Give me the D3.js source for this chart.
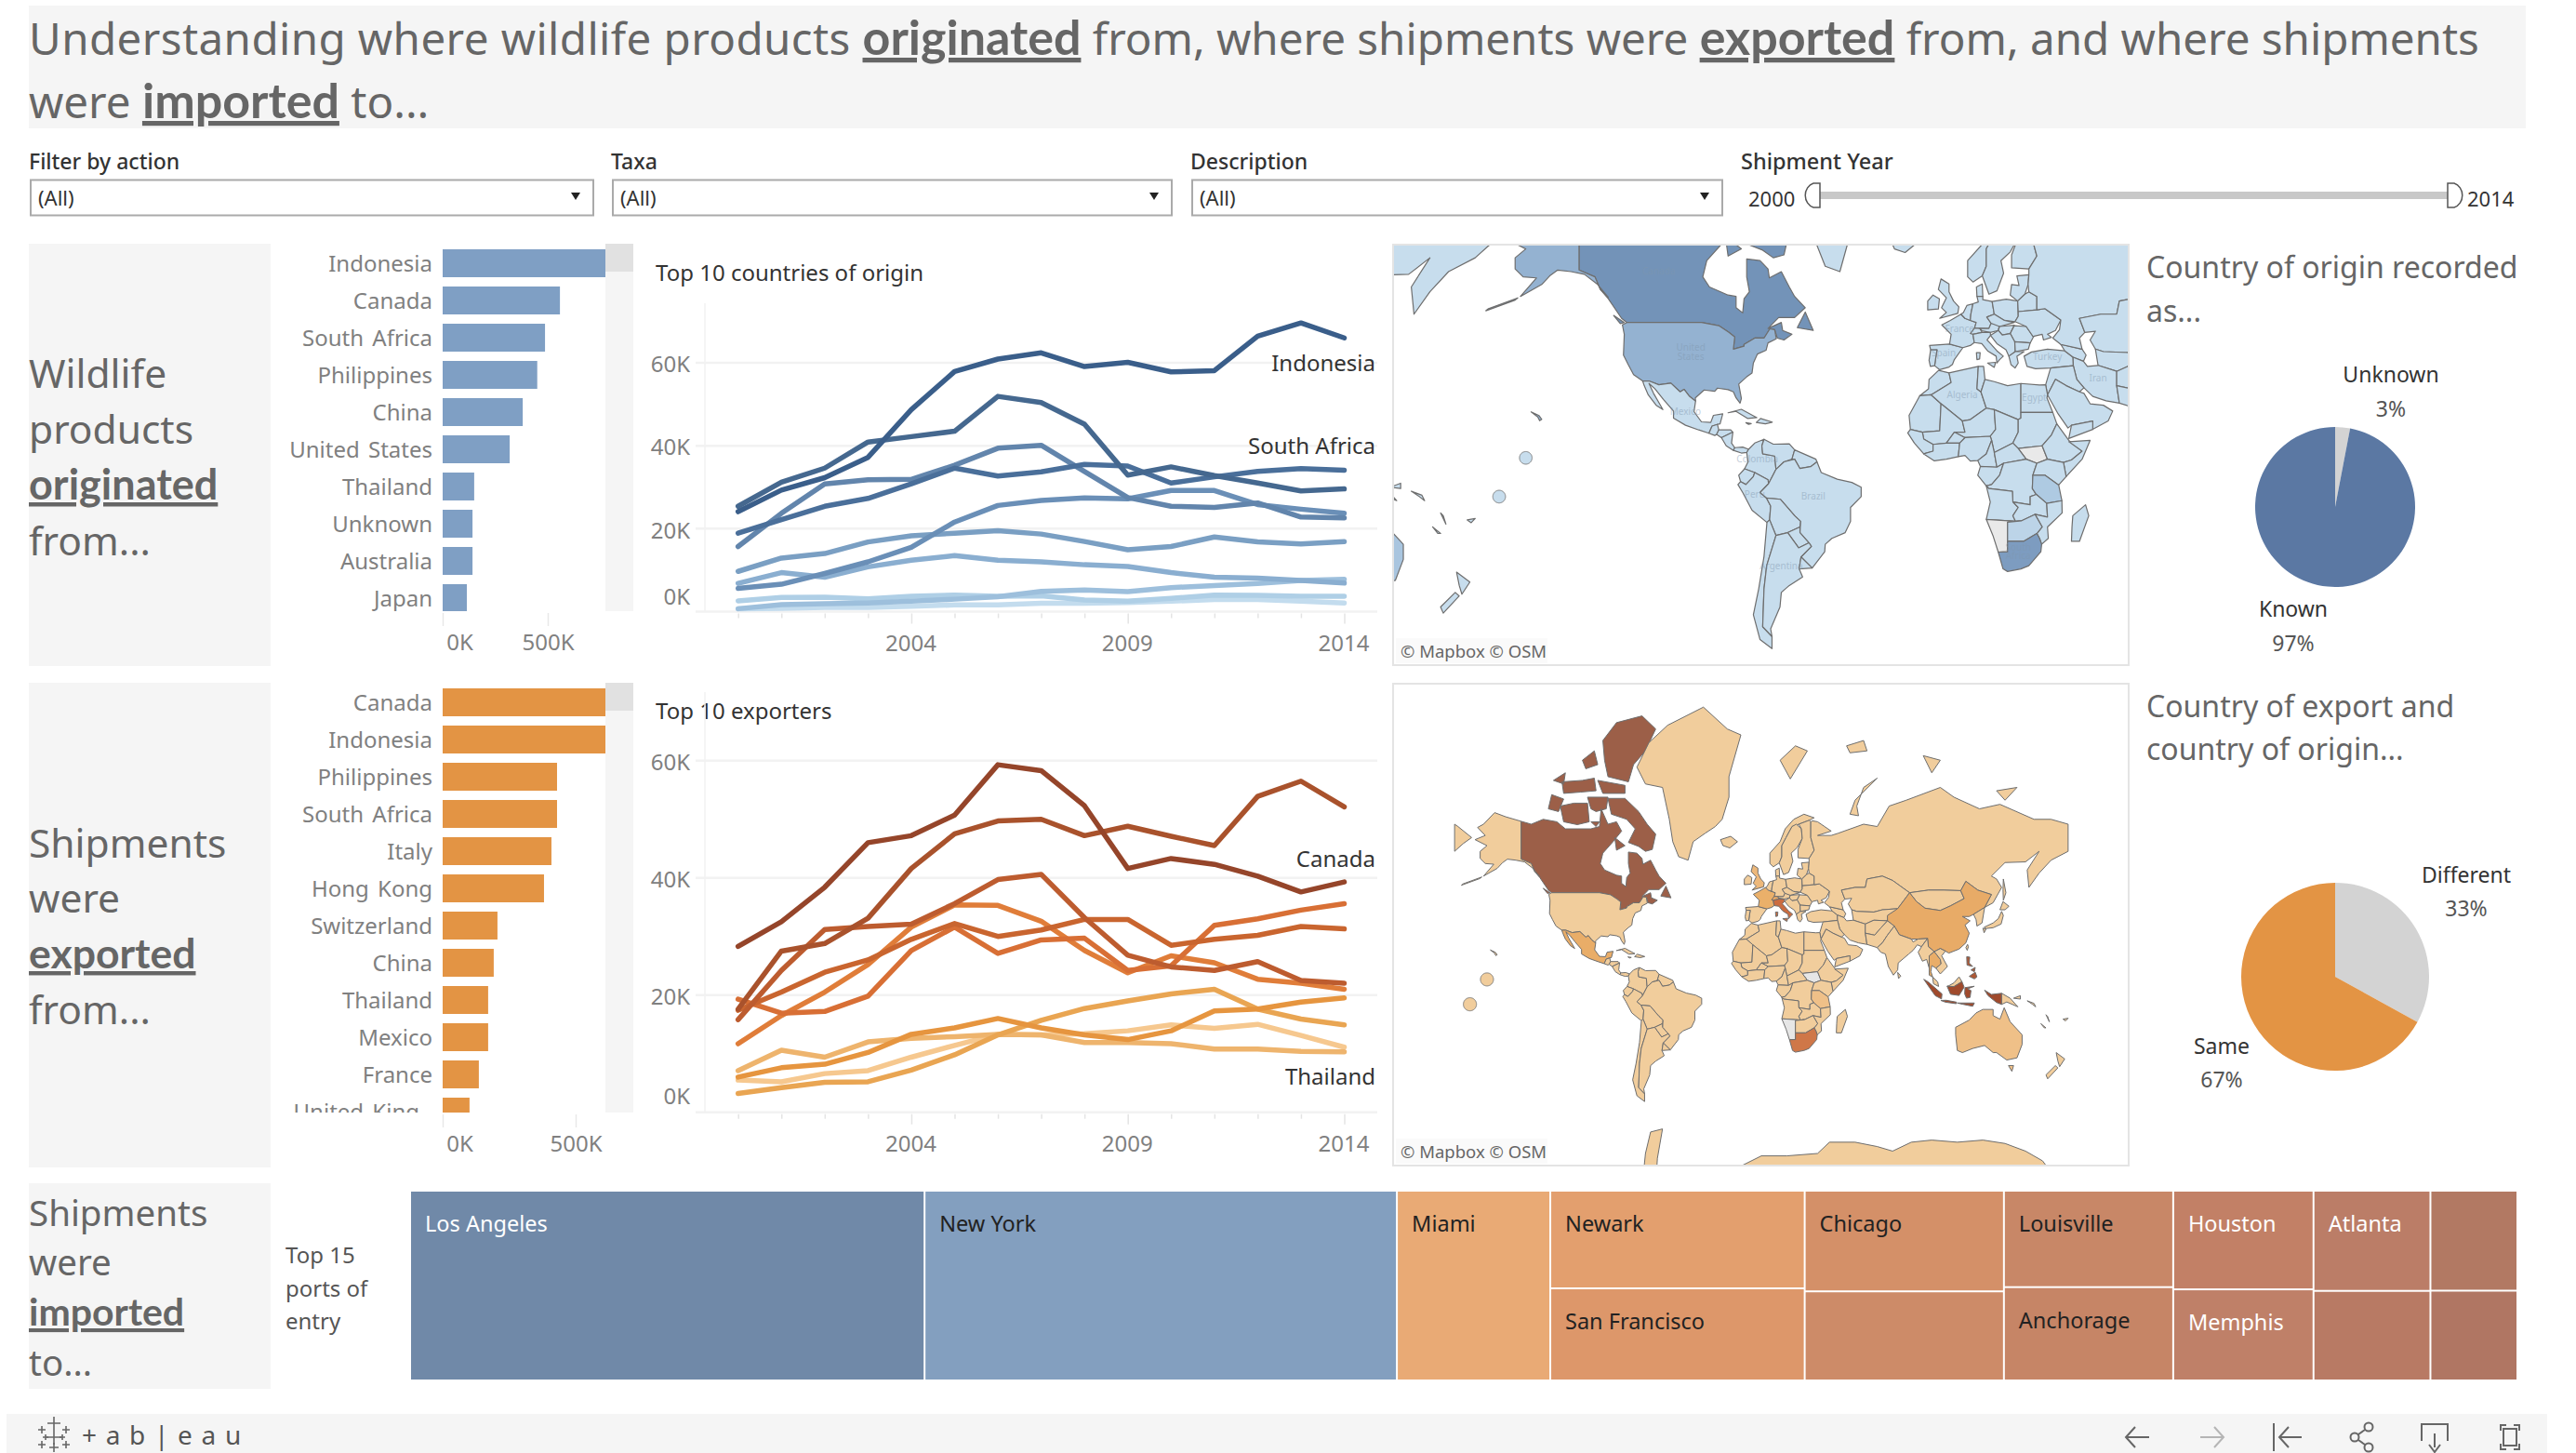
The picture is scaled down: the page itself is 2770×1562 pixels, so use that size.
<!DOCTYPE html>
<html><head><meta charset="utf-8">
<script src="https://d3js.org/d3.v7.min.js"></script>
<style>html,body{margin:0;padding:0;background:#fff}svg{display:block}</style></head>
<body><div id="c"></div>
<script>
// ---------- DATA ----------
const years=[2000,2001,2002,2003,2004,2005,2006,2007,2008,2009,2010,2011,2012,2013,2014];
const labelledYears=[2004,2009,2014];
const originBarNames=["Indonesia","Canada","South Africa","Philippines","China","United States","Thailand","Unknown","Australia","Japan"];
const originBarValues=[800,558,487,450,381,319,150,142,142,115];
const exportBarNames=["Canada","Indonesia","Philippines","South Africa","Italy","Hong Kong","Switzerland","China","Thailand","Mexico","France","United King"];
const exportBarValues=[740,720,430,430,409,381,206,192,171,171,136,101];
const originLines=[
[24.1,29.3,32.3,37.2,48.7,57.9,60.9,62.4,59.1,60.1,57.8,58.1,66.4,69.6,66.0],
[25.4,31.2,34.6,40.9,42.2,43.5,51.9,50.4,45.2,32.9,34.9,32.8,31.0,29.1,29.6],
[18.9,22.2,25.4,27.3,30.8,34.6,32.7,33.7,35.5,35.1,31.0,32.5,33.8,34.5,34.1],
[15.7,23.7,30.8,31.8,31.9,35.3,39.4,40.1,33.8,27.5,25.4,25.1,26.2,22.8,22.6],
[5.6,6.6,9.2,12.0,15.5,21.6,25.6,26.8,27.4,27.2,29.2,29.2,25.8,24.7,23.7],
[9.7,12.9,14.0,16.8,18.3,18.9,19.5,18.7,16.9,14.9,15.7,18.0,16.8,16.3,16.9],
[6.8,9.4,8.3,10.8,12.4,13.5,12.4,12.0,11.3,10.9,9.4,8.3,8.1,7.5,6.9],
[0.7,1.7,1.9,2.1,2.5,3.0,3.6,4.9,5.2,4.8,5.8,6.3,6.8,7.5,7.8],
[2.6,3.4,3.5,3.1,3.7,4.0,3.7,3.8,2.8,2.5,3.2,4.0,3.9,3.7,3.7],
[0.7,0.8,1.0,1.0,1.3,1.6,1.6,2.0,2.0,2.2,2.5,2.9,2.9,2.5,2.1]];
const originColors=["#3a5e8a","#45688f","#4a6f9a","#6285ac","#6a8fb7","#7a9fc3","#8aaed0","#9dbfdc","#afcfe6","#c3dcee"];
const exportLines=[
[28.3,32.5,38.4,46.0,47.2,50.7,59.3,58.3,52.3,41.6,43.3,42.3,40.3,37.6,39.3],
[17.6,27.5,28.8,33.1,41.6,47.5,49.7,50.0,47.2,48.8,47.1,45.5,53.9,56.5,52.1],
[15.8,24.2,31.2,31.7,32.1,35.6,39.7,40.6,33.2,26.8,24.8,24.2,25.7,22.5,22.0],
[17.4,20.5,23.9,26.0,29.5,32.2,30.0,31.1,32.9,32.9,28.5,29.5,30.2,31.7,31.3],
[19.3,16.9,17.2,19.8,27.6,31.6,27.1,29.4,29.7,24.2,25.0,31.9,33.0,34.5,35.6],
[11.7,16.5,20.5,25.2,31.6,35.4,35.3,32.6,27.6,23.8,26.7,25.5,22.7,22.0,21.0],
[6.0,7.6,8.2,10.2,13.3,14.4,16.0,14.4,13.2,12.4,13.9,17.3,17.6,18.8,19.5],
[3.2,4.2,5.1,5.2,7.2,9.8,13.2,15.7,17.7,19.0,20.2,21.0,17.6,15.9,14.9],
[7.1,10.6,9.4,12.0,12.6,12.9,13.3,13.2,11.9,11.9,11.7,10.8,10.8,10.4,10.3],
[5.5,5.2,6.6,7.1,9.4,11.4,13.3,13.2,13.4,13.9,14.9,14.3,15.0,13.1,11.1]];
const exportColors=["#95452a","#a9522c","#bd5c2f","#c9652f","#d86f35","#e07d39","#e6953f","#e9a552","#eeb46d","#f6c88f"];
const pieOrigin=[["Unknown",3],["Known",97]];
const pieExport=[["Different",33],["Same",67]];
const portColumns=[["Los Angeles"],["New York"],["Miami"],["Newark","San Francisco"],["Chicago",""],["Louisville","Anchorage"],["Houston","Memphis"],["Atlanta",""],["",""]];
const portValues=[[550],[505],[164],[140,132],[113,100],[92,89],[78,72],[66,59],[49,44]];
const portColors=[["#7089a8"],["#839fbf"],["#e9aa75"],["#e39f6e","#dd976a"],["#d49068","#cd8b68"],["#c88767","#c68566"],["#c28066","#bf8068"],["#bb7d67","#b87a64"],["#b27963","#b07663"]];
const darkPorts=["Los Angeles","Houston","Memphis","Atlanta"];
// shipments by country (thousands) that tint the maps; everything unlisted takes the low default
const originMapNames=["Canada","United States","South Africa","Tanzania","Indonesia","Philippines","China","Australia","Botswana"];
const originMapValues=[558,319,487,100,800,450,381,142,60];
const exportMapNames=["Canada","Indonesia","Philippines","South Africa","Italy","France","China","Mexico","Thailand","Switzerland","United Kingdom","Australia","Tanzania"];
const exportMapValues=[760,700,620,430,409,136,192,171,171,206,101,70,70];
const noDataCountries=["Namibia","South Sudan"];
const pacificIslets=[[-161,5.5],[-171,-9]];
const faintMapLabels=[["Canada",-111,59.5],["United",-99,41.5],["States",-99,39],["Mexico",-101,21],["Colombia",-74,4],["Peru",-75,-9.5],["Brazil",-53,-10],["Argentina",-65,-34],["Spain",-4,40],["France",2,46.5],["Turkey",35,39],["Iran",54,32.5],["Algeria",3,27],["Egypt",30,26],["South",24,-28],["Africa",24,-31]];
// land shapes in longitude / latitude
const land={
"Canada":[[[-141,69.6],[-135,69],[-128,70],[-120,69.5],[-115,68],[-108,68],[-100,68],[-95,68.5],[-94,72],[-90,69],[-85,69.5],[-82,67.5],[-87,65],[-93,62],[-94.5,59],[-92,57],[-85,55.3],[-82,55],[-82,52.5],[-79.5,51.3],[-79,54.5],[-77,56],[-78,59],[-78,62.3],[-73,62],[-70,60.5],[-69.5,58.8],[-65,60],[-62,57],[-60,55],[-56,52.5],[-60,50.2],[-66,50.2],[-70,47.5],[-65,49],[-64.5,47],[-61,46],[-64,44.5],[-66.5,45],[-67.5,47.2],[-69.3,47.4],[-71.5,45],[-75,45],[-79,43.3],[-79,42.8],[-83,42],[-82.5,45.3],[-84.7,46.5],[-88.5,48.2],[-95,49],[-123,49],[-125,50],[-130,54.5],[-133,56.5],[-135,59],[-141,60.3]],
[[-80,73.8],[-72,71.5],[-67,69],[-62,66.8],[-64,63],[-68,62.5],[-72,63.8],[-78,64.8],[-74,68],[-79,70],[-88,71],[-90,73.8]],[[-118,72.5],[-110,73],[-102,73],[-101,69.5],[-108,68.9],[-116,69.5]],[[-125,72],[-123,74.4],[-116,73.7],[-119,71.5]],[[-90,77],[-78,76.3],[-75,78.5],[-68,80],[-62,82],[-70,83],[-85,82.5],[-93,81],[-92,79]],[[-96,76.5],[-80,75.8],[-80,74.6],[-93,74.6]],[[-117,76.3],[-105,76.5],[-98,76.8],[-97,75],[-106,74.8],[-116,74.6]],[[-102,74],[-90,74],[-91,72],[-97,71.5],[-100,72]],[[-59,47.7],[-56,51.5],[-53,47]],[[-128,50.7],[-124,49],[-125.5,48.7]],[[-86,66],[-80,64],[-85,62.8]],[[-122,76.5],[-115,77.5],[-116,76]],[[-100,69.5],[-95,69.5],[-97,68.5]],[[-105,79],[-98,80],[-96,78.5],[-103,78]]],
"United States":[[[-123,49],[-95,49],[-88.5,48.2],[-84.7,46.5],[-82.5,45.3],[-83,42],[-79,42.8],[-79,43.3],[-75,45],[-71.5,45],[-69.3,47.4],[-67.5,47.2],[-66.9,44.8],[-70,43.7],[-70.7,41.7],[-74,40.6],[-75.5,38],[-76,35],[-78,33.8],[-81,31.5],[-80,26.8],[-80.5,25.2],[-82,27],[-83,29],[-85,29.7],[-89,30.2],[-90,29.2],[-94,29.6],[-97.3,27],[-97.2,25.9],[-99.5,27.5],[-101.5,29.8],[-103,29],[-106.5,31.8],[-111,31.3],[-114.8,32.5],[-117.1,32.5],[-120.5,34.5],[-122.5,37.5],[-124.3,40.3],[-124,46],[-124.7,48.4]],
[[-141,69.6],[-150,70.5],[-156.5,71.3],[-163,69],[-166.5,68.3],[-162,66.5],[-168,65.5],[-161,64],[-165,62.5],[-165,60.5],[-162,59],[-157,58.8],[-163,55],[-155,57.5],[-152,59.2],[-149,60.3],[-144,60],[-139,59.5],[-134,57.5],[-130,54.8],[-133,56.5],[-135,59],[-141,60.3]],[[-159,22.2],[-156,20.9],[-155,19.6],[-155.8,19.1],[-156.5,20.4]],[[-176,51.8],[-165,54.2],[-164,54.7],[-175,52.3]]],
"Mexico":[[[-117.1,32.5],[-114.8,32.5],[-111,31.3],[-106.5,31.8],[-103,29],[-101.5,29.8],[-99.5,27.5],[-97.2,25.9],[-97.8,22.3],[-95,18.7],[-91.5,18.5],[-90.5,21],[-87,21.5],[-88,18],[-89,17.8],[-91,17.2],[-92.2,14.6],[-96,15.8],[-101,17.5],[-105.5,20],[-105.5,22.5],[-109.3,26.5],[-112.5,30],[-114.7,31.7],[-113,28.5],[-110.3,24.3],[-109.5,23],[-112,24.5],[-115,28],[-116.5,31]]],
"Guatemala":[[[-92.2,14.6],[-91,17.2],[-89,17.8],[-88.5,15.8],[-89.3,14.2],[-90,13.8]]],
"Honduras":[[[-88.5,15.8],[-84,15.8],[-83.2,15],[-87.5,13],[-89.3,14.2]]],
"Nicaragua":[[[-83.2,15],[-83.7,11],[-82.5,9.3],[-83,8.3],[-85.7,10],[-87.5,13]]],
"Panama":[[[-82.5,9.3],[-79.5,9.5],[-77.3,8.7],[-78,7.5],[-80,7.3],[-83,8.3]]],
"Cuba":[[[-85,21.9],[-80,23.1],[-74.2,20.2],[-77.7,19.9],[-82,22.4]]],
"Hispaniola":[[[-74.4,18.5],[-72.8,19.9],[-68.4,18.6],[-71,18]]],
"Jamaica":[[[-78.3,18.4],[-76.3,18.1],[-77.3,17.8]]],
"Colombia":[[[-77.3,8.7],[-75,11],[-71.5,12.4],[-72.3,10],[-72,7],[-67.5,6.2],[-67,1.2],[-69.8,-4.2],[-70,-2.7],[-75,0],[-78.8,1.4],[-77.5,4],[-78,7.5]]],
"Venezuela":[[[-71.5,12.4],[-68,10.6],[-62,10.7],[-60,8.5],[-61,5],[-64,4],[-67,1.2],[-67.5,6.2],[-72,7],[-72.3,10]]],
"Guyanas":[[[-60,8.5],[-52,5],[-51.6,4],[-54,2.2],[-58,1.5],[-60,5],[-61,5]]],
"Ecuador":[[[-78.8,1.4],[-75,0],[-75.5,-1.5],[-78.3,-4.5],[-80.3,-3.4],[-81,-1]]],
"Peru":[[[-80.3,-3.4],[-78.3,-4.5],[-75.5,-1.5],[-75,0],[-70,-2.7],[-69.8,-4.2],[-73,-7.5],[-70.6,-9.5],[-69,-12.5],[-69.4,-17.5],[-70.4,-18.4],[-76,-14],[-79.5,-7.5],[-81.3,-4.5]]],
"Brazil":[[[-60,5],[-58,1.5],[-54,2.2],[-51.6,4],[-50,0],[-44,-2.5],[-38.5,-3.7],[-35,-5.5],[-35,-9],[-39,-13],[-39,-18],[-41,-22],[-46,-24],[-48.5,-26],[-48.7,-28.5],[-53.4,-33.7],[-57.6,-30.2],[-53.7,-26.7],[-54.6,-25.5],[-58,-22],[-57.8,-18],[-60,-16],[-65.3,-10],[-70.6,-9.5],[-73,-7.5],[-69.8,-4.2],[-67,1.2],[-64,4]]],
"Bolivia":[[[-69,-12.5],[-70.6,-9.5],[-65.3,-10],[-60,-16],[-57.8,-18],[-58,-20],[-62.6,-22],[-67,-23],[-69.4,-17.5]]],
"Paraguay":[[[-58,-20],[-58,-22],[-54.6,-25.5],[-58.5,-27.2],[-62.6,-22]]],
"Chile":[[[-70.4,-18.4],[-69.4,-17.5],[-67,-23],[-70.5,-33],[-71.5,-40],[-72,-50],[-68.5,-52.3],[-68.5,-55],[-73,-53],[-75.5,-47],[-73.5,-40],[-71.5,-30]]],
"Argentina":[[[-67,-23],[-62.6,-22],[-58.5,-27.2],[-54.6,-25.5],[-53.7,-26.7],[-57.6,-30.2],[-58.3,-34],[-57,-36.5],[-62,-39],[-65,-41],[-65.5,-45],[-69,-50.5],[-68.5,-52.3],[-72,-50],[-71.5,-40],[-70.5,-33]]],
"Uruguay":[[[-57.6,-30.2],[-53.4,-33.7],[-58.3,-34]]],
"Greenland":[[[-73,78.2],[-66,80.8],[-55,82.3],[-34,83.6],[-20,82],[-12,81.5],[-19,77],[-19,74],[-23,70],[-27,68.5],[-33,67],[-40,65],[-43,60],[-48.5,61],[-52,65],[-54,70],[-58,75.5],[-68,76]]],
"Iceland":[[[-24,65.5],[-18,66.3],[-14,65],[-18.5,63.4],[-22.5,64]]],
"United Kingdom":[[[-5.5,50],[1.3,51.2],[1.7,52.7],[-0.3,54],[-2,56],[-2,57.6],[-5,58.6],[-6,56.5],[-3,54.7],[-4.8,52.5],[-3,51.4]]],
"Ireland":[[[-10,52],[-6,52.2],[-5.6,54.5],[-8,55.3],[-10,54]]],
"Norway":[[[5,59],[7,58],[10.5,59.2],[12,61],[12,64],[14.5,66],[18,68.5],[22,69],[28,69.8],[31,70.3],[25,71],[19,70],[14,68],[11,65],[5,62]]],
"Sweden":[[[10.5,59.2],[13,55.5],[16,56.2],[18.5,59.7],[17.5,62],[21,63.5],[24,65.8],[23.5,68],[20.5,69],[18,68.5],[14.5,66],[12,64],[12,61]]],
"Finland":[[[24,65.8],[21.5,63],[21.5,60.7],[28,60.5],[31,62.8],[29,66],[29,69.5],[28,69.8],[22,69],[23.5,68]]],
"Denmark":[[[8.5,55],[8.3,57],[10.5,57.6],[10.7,55]]],
"Spain":[[[-9.3,43],[-1.8,43.4],[3.2,42.4],[0,39],[-0.7,37.6],[-2,36.8],[-5.5,36],[-7.4,37.2],[-7,39.5],[-6.5,41.8],[-8.9,41.8]]],
"Portugal":[[[-8.9,41.8],[-6.5,41.8],[-7,39.5],[-7.4,37.2],[-9,37],[-9.5,38.8]]],
"France":[[[-1.8,43.4],[3.2,42.4],[6,43],[7.5,43.8],[7,46],[8.2,49],[4,50],[2.5,51],[-1.5,49.5],[-4.7,48.4],[-1.2,46]]],
"Benelux":[[[2.5,51],[4,50],[6,49.5],[6.2,51],[7,53.4],[4.7,53],[3.4,51.4]]],
"Germany":[[[6,49.5],[8.2,49],[7.6,47.6],[13,47.5],[13.8,48.8],[12.2,50.3],[15,51],[14.2,53.9],[10.7,54.3],[10.7,55],[8.5,55],[9,53.8],[7,53.4],[6.2,51]]],
"Switzerland":[[[6,46.2],[7,46],[10.4,46.5],[9.6,47.5],[7.6,47.6]]],
"Austria":[[[9.6,47.5],[10.4,46.9],[13.5,46.5],[16.5,47],[17,48.5],[13.8,48.8],[13,47.5]]],
"Italy":[[[7,46],[7.5,43.8],[10.3,43.5],[12.5,41.5],[15.7,40],[16,38],[17,39],[18.4,40],[16,41.5],[13.5,43.6],[12.3,44.5],[13.6,45.7],[13.5,46.5],[10.4,46.5]],[[12.5,38],[15.5,38.2],[15,36.7]],[[8.3,41],[9.7,41],[9.5,39.2],[8.5,39]]],
"Poland":[[[14.2,53.9],[15,51],[18.8,49.5],[22.8,49.2],[24,50.5],[23.8,54],[19.5,54.4]]],
"Czechia":[[[12.2,50.3],[15,51],[18.8,49.5],[22.5,49],[17,48],[13.8,48.8]]],
"Hungary":[[[16.5,47],[17,48],[22.5,48.3],[21,46.2],[18,45.8]]],
"Romania":[[[21,46.2],[22.5,48.2],[27,48],[29.7,45.3],[28.5,43.7],[22.7,44]]],
"Balkans":[[[13.6,45.7],[16.5,47],[18,45.8],[21,46.2],[22.7,44],[22.9,41.3],[20.5,40],[19.4,41.8],[16,43.5]]],
"Bulgaria":[[[22.7,44],[28.5,43.7],[27.8,42],[22.9,41.3]]],
"Greece":[[[20.5,40],[22.9,41.3],[26.2,41.3],[23.5,40],[24,38],[22.8,36.5],[21.3,37.5]]],
"Baltics":[[[21,55.3],[21.5,57.5],[24.3,57.3],[23.5,59.2],[28,59.4],[27.7,57.5],[26.5,55.5],[23.8,54]]],
"Belarus":[[[23.8,54],[24,51.6],[31,52],[31,55],[28,56],[26.5,55.5]]],
"Ukraine":[[[22.8,49.2],[24,50.5],[24,51.6],[31,52],[34,52.3],[40,49.6],[38,47],[35,46],[36.5,45.2],[33.5,44.5],[33,46],[30,45.5],[29.7,45.3],[27,48]]],
"Turkey":[[[26.2,40],[29,41.2],[35,42],[41.5,41.5],[44.6,39.7],[44.7,37.2],[36.2,36.5],[30.5,36.3],[27.3,37]]],
"Caucasus":[[[41.5,41.5],[40,43.3],[48,42],[49.5,40.3],[48.5,38.5],[44.6,39.7]]],
"Russia":[[[28,59.4],[27.7,57.5],[28,56],[31,55],[31,52],[34,52.3],[40,49.6],[39.5,47.2],[37,45],[40,43.3],[48,42],[47,45],[49,46.5],[47,50],[55,51],[61,51],[62,54],[71,55],[77,53.5],[87,49],[98,50],[107,50],[117,49.8],[120,53.2],[127,50],[135,48.3],[131,43],[136,45],[141,51],[138,54],[135,55],[143,59.3],[155,59.5],[163,62.5],[156,57],[157,51],[163,56],[170,60],[180,62.5],[-175,64.5],[-170,66],[-178,68.5],[180,69],[170,70],[160,70],[140,72.8],[128,72],[113,74],[105,75.5],[85,73.5],[75,72.5],[68,68.5],[60,69],[45,67],[41,66.5],[33,66.5],[41,67.5],[33,69.5],[30,69.7],[29,69.5],[29,66],[31,62.8],[28,60.5]],[[142,54],[143.5,49],[142,46],[141.8,50]],[[52,71],[55,73.5],[68,76.8],[60,75.5],[56,72.5],[57,70.7]],[[95,79.5],[105,79],[100,77.5]],[[138,75],[150,75.5],[143,73.5]],[[50,80.5],[60,81],[62,80],[52,79.8]]],
"Svalbard":[[[11,79],[20,80.5],[27,80],[17,76.7]]],
"Kazakhstan":[[[47,50],[55,51],[61,51],[62,54],[71,55],[77,53.5],[87,49],[80,42.5],[71,42],[66,41],[56,41.3],[53,42],[51,44.5],[53,46.8],[49,46.5]]],
"Central Asia":[[[53,42],[56,41.3],[66,41],[71,42],[80,42.5],[74,37],[66,37.3],[61,35.5],[54,37.3]]],
"Mongolia":[[[87,49],[98,50],[107,50],[117,49.8],[119,46.7],[111,43.7],[105,41.7],[96,42.7],[91,45.5]]],
"China":[[[74,39.5],[80,42.5],[87,49],[91,45.5],[96,42.7],[105,41.7],[111,43.7],[119,46.7],[117,49.8],[120,53.2],[127,50],[135,48.3],[131,43],[124.5,40],[122,39],[118,39],[122.5,37],[119.5,35],[122,31],[120,26],[116,22.7],[110,20.5],[108,21.6],[105,23],[101.5,21.3],[98,24],[97.5,28.3],[92,28],[88,28],[81,30.2],[78,34.5],[74,37]]],
"Korea":[[[124.5,40],[131,43],[129.5,36],[126.5,34.5],[126,37.5]]],
"Japan":[[[130.8,34],[136,36],[139,38],[141,41.3],[142,39.5],[140.7,35.5],[136,33.7],[131.5,33.3]],[[140,42],[141.8,45.5],[145.3,43.5],[143,42]],[[130,33.5],[131.8,33],[130.7,31.2]]],
"Taiwan":[[[121,25.2],[121.5,24],[120.8,22],[120,23.5]]],
"Iran":[[[44.6,39.7],[48.5,38.5],[50,37],[54,37.3],[61,35.5],[61,31],[62,25.2],[57,26],[52,27.5],[48.7,30.3],[46,33],[44.7,37.2]]],
"Iraq":[[[34.3,31.3],[35.9,35.8],[36.2,36.5],[44.7,37.2],[46,33],[48.7,30.3],[47,29],[42,31],[38,33],[35,28]]],
"Saudi Arabia":[[[35,28],[38,33],[42,31],[47,29],[48.7,28.5],[51,25],[56,24.5],[59.5,22.5],[57.8,19],[52,16],[52,19],[44,17.5],[42.7,16.5],[39,21.5]]],
"Yemen":[[[43,12.7],[52,16],[52,19],[44,17.5]]],
"Afghanistan":[[[61,31],[61,35.5],[66,37.3],[74,37],[70,33.5],[66.5,30]]],
"Pakistan":[[[61,31],[66.5,30],[70,33.5],[74,37],[78,34.5],[74,30],[71,26],[68,23.5],[62,25.2]]],
"India":[[[68,23.5],[71,26],[74,30],[78,34.5],[81,30.2],[88,28],[89,26.5],[92,28],[97.5,28.3],[94,24],[91.5,25],[89,22],[86.5,20],[80.3,15],[80,11],[77.5,8],[74.5,13],[72.8,20],[70,21]]],
"Sri Lanka":[[[80,9.6],[81.8,7.5],[80.5,6]]],
"Myanmar":[[[92,21],[94,24],[97.5,28.3],[98,24],[101.5,21.3],[98.5,19],[98.5,12],[97,17],[94.5,16]]],
"Thailand":[[[98.5,19],[101.5,21.3],[105,17],[105.5,14.5],[102.5,12],[100,13.5],[99.5,10],[100.5,7],[98.5,8],[98.5,12]]],
"Indochina":[[[101.5,21.3],[105,23],[108,21.6],[105.8,19],[109.2,13],[106.8,10.5],[105,8.7],[102.5,12],[105.5,14.5],[105,17]]],
"Malaysia":[[[100.5,7],[103.5,4],[104,1.4],[101,3]],[[109,1.5],[113,1.3],[117.7,4.2],[116,7],[113,3.5],[110,1.8]]],
"Indonesia":[[[95.3,5.6],[98,4],[103.7,-1],[106,-3],[105.7,-5.9],[102,-4],[98.5,1]],[[105.3,-6.8],[108.5,-6.7],[114.5,-7.8],[114.4,-8.7],[108,-7.8]],[[109,1.5],[113,1.3],[117.7,4.2],[119,1],[116,-3.9],[111,-3.2]],[[119.5,0.7],[125,1.5],[121,0],[123,-1],[122.5,-5],[120.4,-5.5],[119.3,-3]],[[131,-0.8],[135,-3.3],[141,-2.6],[141,-9.1],[138,-8],[133,-4]],[[115,-8.3],[125,-8.3],[124,-10.2],[118,-9]]],
"Papua New Guinea":[[[141,-2.6],[146,-5.5],[150.5,-10.5],[144,-7.7],[141,-9.1]],[[148,-5.5],[152,-4],[152,-6]]],
"Philippines":[[[120.5,18.5],[122.3,18.3],[122,15],[124,13],[120.7,13.8]],[[122,7.3],[125.5,9.7],[126.5,7],[125,5.8]],[[123,11],[125.5,12.5],[125,10]]],
"Australia":[[[114,-22],[122,-18],[126,-14],[130,-12],[136,-12],[136,-15.5],[140,-17.5],[142.5,-11],[146,-19],[153,-26],[153,-31],[150,-37.5],[144,-38.5],[138,-35],[136,-35],[131,-31.5],[124,-33],[118,-35],[115,-34],[114,-26]],[[145,-41],[148,-41],[147,-43.5]]],
"New Zealand":[[[173,-35],[178,-38],[175,-41.5],[174,-39]],[[172.5,-41],[174,-42],[168,-46.6],[167,-45]]],
"Pacific isles":[[[156,-7],[160,-8.5],[161,-10.5],[159,-9]],[[177,-17.5],[180,-17],[178.5,-18.5]],[[164,-20],[167,-22.3],[166,-22.3]],[[167,-15],[168,-16],[169,-19]]],
"Madagascar":[[[49.3,-12],[50.5,-16],[47,-25],[44,-25],[44.2,-20],[44.5,-16]]],
"Morocco":[[[-5.9,35.8],[-2,35],[-1.2,32],[-8.7,28],[-13,27.7],[-9.7,30],[-9.5,33]]],
"Mauritania":[[[-17,21],[-13,27.7],[-8.7,28],[-5,25],[-5.5,15.5],[-12,15],[-16.5,16]]],
"Algeria":[[[-2,35],[9,37],[8.5,30],[10,29],[12,23.5],[6,19.5],[3,19],[-5,25],[-8.7,28],[-1.2,32]]],
"Tunisia":[[[9,37],[11,37],[11.5,33],[10,29],[8.5,30]]],
"Libya":[[[11.5,33],[15,32.3],[20,31],[25,31.7],[25,20],[24,19.5],[15,23],[12,23.5],[10,29]]],
"Egypt":[[[25,31.7],[32,31.2],[34.3,31.3],[35,28],[34.8,27],[37,22],[25,22]]],
"Mali":[[[-12,15],[-5.5,15.5],[-5,25],[3,19],[4,15],[0,15],[-3,11],[-8,10.5],[-11.5,12.5]]],
"Niger":[[[3,19],[6,19.5],[12,23.5],[15,23],[15.5,16],[13.5,13.5],[4,13],[0,15],[4,15]]],
"Chad":[[[15,23],[24,19.5],[24,15],[22,11],[15,7.5],[14,12],[13.5,13.5],[15.5,16]]],
"Sudan":[[[25,22],[37,22],[38.5,18],[36.5,14],[33,10],[24,9],[22,11],[24,15],[24,19.5],[25,20]]],
"South Sudan":[[[24,9],[33,10],[35,5],[31,3.5],[27,5]]],
"Ethiopia":[[[36.5,14],[38.5,18],[43,12],[48,8],[44,4.7],[41,3.8],[35,5],[33,10]]],
"Somalia":[[[43,11.5],[51,12],[48,5],[42,-1.5],[41,3.8],[44,4.7],[48,8]]],
"Senegal":[[[-16.5,16],[-12,15],[-11.5,12.5],[-8,10.5],[-8,8],[-11.5,7],[-15,11],[-17.5,14.7]]],
"Burkina":[[[-3,11],[0,15],[4,13],[2,11]]],
"Ivory Coast":[[[-8,10.5],[-3,11],[2,11],[1.5,6],[-3,5],[-7.5,4.4],[-11.5,7],[-8,8]]],
"Nigeria":[[[2,11],[4,13],[13.5,13.5],[14,12],[12,7],[8.8,4.5],[6,4.3],[4,6.4],[1.5,6]]],
"Cameroon":[[[14,12],[15,7.5],[16,2],[9.8,2.3],[8.8,4.5],[12,7]]],
"CAR":[[[15,7.5],[22,11],[24,9],[27,5],[18.5,3.5],[16,2]]],
"Gabon":[[[9.8,2.3],[16,2],[18.5,3.5],[17,-1],[14,-4.5],[12,-5],[8.8,-1]]],
"DRC":[[[18.5,3.5],[27,5],[31,3.5],[29.5,-1],[29.3,-6],[30.8,-8.2],[28.5,-9],[28.5,-12],[22,-11],[21.8,-7],[13,-6],[12,-5],[14,-4.5],[17,-1]]],
"Kenya":[[[31,3.5],[35,5],[41,3.8],[42,-1.5],[39.2,-4.7],[34,-1],[29.5,-1]]],
"Tanzania":[[[29.5,-1],[34,-1],[39.2,-4.7],[40.4,-10.5],[34.7,-11.5],[30.8,-8.2],[29.3,-6]]],
"Angola":[[[12,-5],[13,-6],[21.8,-7],[22,-11],[24,-13],[22,-16],[23,-18],[12,-17.3],[13.5,-11]]],
"Zambia":[[[22,-11],[28.5,-12],[28.5,-9],[30.8,-8.2],[34.7,-11.5],[35,-16.5],[30.3,-15.5],[25.3,-17.8],[23,-18],[22,-16],[24,-13]]],
"Mozambique":[[[34.7,-11.5],[40.4,-10.5],[40.5,-15],[35,-20],[35.3,-24],[32.8,-26],[32,-24],[31,-22.3],[33,-20],[30.3,-15.5],[35,-16.5]]],
"Namibia":[[[12,-17.3],[23,-18],[25.3,-17.8],[20,-18.3],[20,-28.5],[16.5,-28.6],[14.5,-23]]],
"Botswana":[[[20,-18.3],[25.3,-17.8],[30.3,-15.5],[33,-20],[31,-22.3],[26,-25],[20,-25]]],
"South Africa":[[[16.5,-28.6],[20,-28.5],[20,-25],[26,-25],[31,-22.3],[32,-24],[32.8,-26],[32.5,-28.5],[28,-33],[25,-34],[20,-34.8],[18.3,-34]]],
"Antarctica":[[[-20,-73],[-12,-71.5],[0,-69.5],[15,-69.5],[33,-69],[40,-66.5],[55,-66.5],[68,-67.5],[77,-68.5],[88,-66.5],[100,-66],[115,-66.5],[130,-66],[143,-66.8],[155,-68.5],[165,-70.5],[171,-73],[170,-85],[70,-85],[-20,-85]],[[-65,-64],[-58,-63.2],[-61,-70],[-62,-75],[-70,-75],[-68,-69]]]
};

// ---------- HELPERS ----------
const FONT="'Noto Sans'";
const svg=d3.select("#c").append("svg").attr("width",2770).attr("height",1562).attr("font-family",FONT);
const defs=svg.append("defs");
function clip(id,x,y,w,h){defs.append("clipPath").attr("id",id).append("rect").attr("x",x).attr("y",y).attr("width",w).attr("height",h);return `url(#${id})`;}
function rect(x,y,w,h,fill){return svg.append("rect").attr("x",x).attr("y",y).attr("width",w).attr("height",h).attr("fill",fill);}
function text(x,y,s,size,fill,anchor,weight){return svg.append("text").attr("x",x).attr("y",y).attr("font-size",size).attr("fill",fill).attr("text-anchor",anchor||"start").attr("font-weight",weight||400).text(s);}
function rich(x,y,parts,size,fill,boldSize){
  const t=svg.append("text").attr("x",x).attr("y",y).attr("font-size",size).attr("fill",fill);
  parts.forEach(p=>{const b=p[0]==="*";const ts=t.append("tspan").text(b?p.slice(1):p);
    if(b)ts.attr("font-weight",700).attr("font-family","Lato").attr("font-size",boldSize).attr("text-decoration","underline");});
  return t;
}
const INK="#666",TICK="#808080",DARK="#333";

// ---------- TITLE ----------
rect(31,6,2685,132,"#f5f5f5");
rich(31,59,["Understanding where wildlife products ","*originated"," from, where shipments were ","*exported"," from, and where shipments"],47.5,INK,52)
  .select("tspan").attr("letter-spacing",0.42);
rich(31,127,["were ","*imported"," to..."],47.5,INK,52);

// ---------- FILTERS ----------
[["Filter by action",31,33,638],["Taxa",657,659,1260],["Description",1280,1282,1852]].forEach(f=>{
  text(f[1],182,f[0],23,DARK,"start",500);
  svg.append("rect").attr("x",f[2]).attr("y",193.5).attr("width",f[3]-f[2]).attr("height",38).attr("fill","#fff").attr("stroke","#aaa").attr("stroke-width",2);
  text(f[2]+8,221,"(All)",22,DARK);
  const ax=f[3]-19;
  svg.append("path").attr("d",`M${ax-5} 207L${ax+5} 207L${ax} 215Z`).attr("fill","#222");
});
text(1872,182,"Shipment Year",23.5,DARK,"start",500);
text(1880,222,"2000",22,DARK);
text(2653,222,"2014",22,DARK);
rect(1957,206,675,8,"#c8c8c8");
svg.append("path").attr("d","M1957 197L1950 197A12 13.5 0 0 0 1950 223L1957 223Z").attr("fill","#fff").attr("stroke","#555").attr("stroke-width",1.5);
svg.append("path").attr("d","M2632 197L2639 197A12 13.5 0 0 1 2639 223L2632 223Z").attr("fill","#fff").attr("stroke","#555").attr("stroke-width",1.5);

// ---------- LEFT SIDE PANELS ----------
rect(31,262,260,454,"#f5f5f5");
rect(31,734,260,521,"#f5f5f5");
rect(31,1272,260,221,"#f5f5f5");
[["Wildlife",417],["products",477],["*originated",537],["from...",597]].forEach(l=>rich(31,l[1],[l[0]],42.5,INK,45));
[["Shipments",922],["were",981],["*exported",1041],["from...",1101]].forEach(l=>rich(31,l[1],[l[0]],42.5,INK,44.5));
[["Shipments",1318],["were",1371],["*imported",1425],["to...",1479]].forEach(l=>rich(31,l[1],[l[0]],38.5,INK,41));
[["Top 15",1358],["ports of",1394],["entry",1429]].forEach(l=>text(307,l[1],l[0],24,"#555"));

// ---------- BAR CHARTS ----------
function bars(names,vals,top,bottom,zero,perK,color,clipId,scrollTop,thumbH){
  const x=d3.scaleLinear().domain([0,500]).range([zero,zero+perK*500]);
  const y=d3.scaleBand().domain(names).range([top,top+40*names.length]).paddingInner(.25).paddingOuter(.125);
  const cp=clip(clipId,300,scrollTop,351,bottom-scrollTop);
  const g=svg.append("g").attr("clip-path",cp);
  g.selectAll("rect").data(names).join("rect").attr("x",zero).attr("y",d=>y(d))
    .attr("width",(d,i)=>x(vals[i])-zero).attr("height",y.bandwidth()).attr("fill",color);
  g.selectAll("text").data(names).join("text").attr("x",d=>d==="United King"?451:465).attr("y",d=>y(d)+y.bandwidth()/2+9)
    .attr("text-anchor","end").attr("font-size",24).attr("word-spacing",3).attr("fill",TICK).text(d=>d);
  rect(651,scrollTop,30,bottom-scrollTop,"#f5f5f5");
  rect(651,scrollTop,30,thumbH,"#e1e1e1");
  const ax=svg.append("g").attr("transform",`translate(0,${bottom+2})`).call(d3.axisBottom(x).tickValues([0,500]).tickSize(14).tickFormat(d=>d+"K"));
  ax.select(".domain").remove();
  ax.selectAll("line").attr("stroke","#e8e8e8").attr("stroke-width",1.5);
  ax.selectAll("text").attr("font-size",24).attr("font-family",FONT).attr("fill",TICK).attr("y",26).attr("dy","0.6em");
  ax.selectAll(".tick").filter(d=>d===0).select("text").attr("dx",18);
}
bars(originBarNames,originBarValues,263,657,476,113/500,"#7f9fc4","barClipA",262,30);
bars(exportBarNames,exportBarValues,735,1196,476,143/500,"#e39444","barClipB",734,30);

// ---------- LINE CHARTS ----------
function lines(series,colors,y0,y60,topY,title,titleY,labels,tickLabelY,zeroDy){
  const x=d3.scaleLinear().domain([2000,2014]).range([793.7,1445.5]);
  const y=d3.scaleLinear().domain([0,60]).range([y0,y60]);
  text(705,titleY,title,24,DARK);
  svg.append("line").attr("x1",758).attr("x2",758).attr("y1",topY).attr("y2",y0).attr("stroke","#f2f2f2").attr("stroke-width",1.5);
  svg.append("g").selectAll("line").data([0,20,40,60]).join("line").attr("x1",748).attr("x2",1481)
    .attr("y1",d=>y(d)).attr("y2",d=>y(d)).attr("stroke","#f2f2f2").attr("stroke-width",2.5);
  const ya=svg.append("g").attr("transform","translate(742,2)").call(d3.axisLeft(y).tickValues([0,20,40,60]).tickSize(0).tickFormat(d=>d+"K"));
  ya.select(".domain").remove();
  ya.selectAll("text").attr("font-size",24).attr("font-family",FONT).attr("fill",TICK).attr("x",0);
  ya.selectAll(".tick").filter(d=>d===0).select("text").attr("dy",zeroDy);
  const xa=svg.append("g").attr("transform",`translate(0,${y0+2})`).call(d3.axisBottom(x).tickValues(years).tickSize(5).tickFormat(d=>labelledYears.includes(d)?d:""));
  xa.select(".domain").remove();
  xa.selectAll("line").attr("stroke","#e4e4e4").attr("stroke-width",1.5).attr("y2",d=>labelledYears.includes(d)?11:5);
  xa.selectAll("text").attr("font-size",24).attr("font-family",FONT).attr("fill",TICK).attr("y",tickLabelY-y0-2).attr("dy",0).attr("dx",-1);
  const ln=d3.line().x((d,i)=>x(years[i])).y(d=>y(d));
  const order=series.map((s,i)=>i).reverse();
  svg.append("g").selectAll("path").data(order).join("path").attr("d",i=>ln(series[i])).attr("fill","none")
    .attr("stroke",i=>colors[i]).attr("stroke-width",5.5).attr("stroke-linejoin","round").attr("stroke-linecap","round");
  labels.forEach(l=>text(1479,l[1],l[0],24,DARK,"end"));
}
lines(originLines,originColors,657.5,390,326,"Top 10 countries of origin",302,[["Indonesia",399],["South Africa",488]],700,"-0.4em");
lines(exportLines,exportColors,1195.7,817.7,744,"Top 10 exporters",773,[["Canada",932],["Thailand",1166]],1238,"-0.45em");

// ---------- MAPS ----------
const fixRing=r=>{const c=r.concat([r[0]]);return d3.geoArea({type:"Polygon",coordinates:[c]})>2*Math.PI?c.slice().reverse():c;};
const features=Object.keys(land).map(n=>({type:"Feature",properties:{name:n},geometry:{type:"MultiPolygon",coordinates:land[n].map(r=>[fixRing(r)])}}));
function map(id,box,scale,rotate,tx,ty,names,vals,colorScale,nodata,lowValue,strokeW,isletR,labels){
  const px=box[0],py=box[1],pw=box[2],ph=box[3];
  const lookup=new Map(names.map((n,i)=>[n,vals[i]]));
  const proj=d3.geoMercator().rotate([rotate,0]).scale(scale).translate([tx,ty]).precision(0).clipExtent([[px,py],[px+pw,py+ph]]);
  const path=d3.geoPath(proj);
  const fillOf=n=>noDataCountries.includes(n)?nodata:colorScale(lookup.has(n)?lookup.get(n):lowValue);
  const g=svg.append("g").attr("clip-path",clip(id,px,py,pw,ph));
  g.selectAll("path.c").data(features).join("path").attr("class","c").attr("d",path)
    .attr("fill",d=>fillOf(d.properties.name)).attr("stroke","#6e6e6e").attr("stroke-width",strokeW).attr("stroke-linejoin","round");
  g.selectAll("path.i").data(pacificIslets).join("path").attr("class","i")
    .attr("d",d=>path(d3.geoCircle().center(d).radius(isletR)())).attr("fill",colorScale(lowValue)).attr("stroke","#7a7a7a").attr("stroke-width",1);
  g.selectAll("text").data(labels).join("text").attr("x",d=>proj([d[1],d[2]])[0]).attr("y",d=>proj([d[1],d[2]])[1])
    .attr("text-anchor","middle").attr("font-size",10).attr("fill","#7f97ae").attr("opacity",.45).text(d=>d[0]);
  svg.append("rect").attr("x",px).attr("y",py).attr("width",pw).attr("height",ph).attr("fill","none").attr("stroke","#e4e4e4").attr("stroke-width",2);
  rect(px+3,py+ph-29,163,27,"#fafafa");
  text(px+8,py+ph-8,"© Mapbox  © OSM",18.5,"#666");
}
const blueScale=d3.scaleLinear().domain([0,30,100,320,560,900]).range(["#c9dfee","#c6dcec","#aecae2","#94b2d1","#7393b8","#34567f"]);
const orangeScale=d3.scaleLinear().domain([0,30,70,136,200,409,430,700,760]).range(["#f1cd9c","#f1cd9c","#efc088","#eab06a","#e8aa66","#cb6c40","#cf7748","#a04a2c","#9c5f48"]);
map("mapA",[1498,263,791,452],164,72.5,1894,508,originMapNames,originMapValues,blueScale,"#e9e9e9",20,1.2,2.35,faintMapLabels);
map("mapB",[1498,735,791,518],105,0,1894,1063,exportMapNames,exportMapValues,orangeScale,"#e6e6e6",20,1,3.8,[]);

// ---------- PIES ----------
function pie(data,colors,cx,cy,r){
  const arcs=d3.pie().sort(null).value(d=>d[1])(data);
  const arc=d3.arc().innerRadius(0).outerRadius(r);
  svg.append("g").attr("transform",`translate(${cx},${cy})`).selectAll("path").data(arcs).join("path").attr("d",arc).attr("fill",(d,i)=>colors[i]);
}
[["Country of origin recorded",299],["as...",346]].forEach(l=>text(2308,l[1],l[0],32,INK));
pie(pieOrigin,["#d3d3d3","#5b78a3"],2511,545,86);
text(2571,411,pieOrigin[0][0],23,DARK,"middle");text(2571,448,pieOrigin[0][1]+"%",23,"#555","middle");
text(2466,663,pieOrigin[1][0],23,DARK,"middle");text(2466,700,pieOrigin[1][1]+"%",23,"#555","middle");
[["Country of export and",771],["country of origin...",817]].forEach(l=>text(2308,l[1],l[0],32,INK));
pie(pieExport,["#d3d3d3","#e39444"],2511,1050,101);
text(2652,949,pieExport[0][0],23,DARK,"middle");text(2652,985,pieExport[0][1]+"%",23,"#555","middle");
text(2389,1133,pieExport[1][0],23,DARK,"middle");text(2389,1169,pieExport[1][1]+"%",23,"#555","middle");

// ---------- TREEMAP ----------
const tree={children:portColumns.map((col,c)=>({children:col.map((n,k)=>({name:n,value:portValues[c][k],fill:portColors[c][k]}))}))};
const root=d3.hierarchy(tree).sum(d=>d.value||0);
d3.treemap().tile(d3.treemapSliceDice).size([2264,202]).paddingInner(2)(root);
const tm=svg.append("g").attr("transform","translate(442,1281)");
const leaves=root.leaves();
tm.selectAll("rect").data(leaves).join("rect").attr("x",d=>d.x0).attr("y",d=>d.y0).attr("width",d=>d.x1-d.x0).attr("height",d=>d.y1-d.y0).attr("fill",d=>d.data.fill);
tm.selectAll("text").data(leaves.filter(d=>d.data.name)).join("text").attr("x",d=>d.x0+15).attr("y",d=>d.y0+43).attr("font-size",23.5)
  .attr("fill",d=>darkPorts.includes(d.data.name)?"#fff":"#222").text(d=>d.data.name);

// ---------- FOOTER ----------
rect(7,1520,2732,42,"#f5f5f5");
const logo=svg.append("g").attr("stroke","#666").attr("stroke-width",1.6).attr("fill","none");
[[58,1530,7],[58,1545,8],[58,1556,5],[45,1537,4],[71,1537,4],[45,1553,4],[71,1553,4],[49,1545,3],[67,1545,3]].forEach(p=>{
  logo.append("path").attr("d",`M${p[0]-p[2]} ${p[1]}H${p[0]+p[2]}M${p[0]} ${p[1]-p[2]}V${p[1]+p[2]}`);
});
text(88,1553,"+ a b | e a u",28,"#555").attr("letter-spacing",1.2);
const ic=svg.append("g").attr("fill","none").attr("stroke","#666").attr("stroke-width",2);
ic.append("path").attr("d","M2311 1545H2286M2296 1534L2286 1545L2296 1556");
ic.append("path").attr("d","M2366 1545H2391M2381 1534L2391 1545L2381 1556").attr("stroke","#b5b5b5");
ic.append("path").attr("d","M2445 1530V1560M2475 1545H2451M2461 1534L2451 1545L2461 1556");
ic.append("circle").attr("cx",2547).attr("cy",1534).attr("r",4.5);
ic.append("circle").attr("cx",2532).attr("cy",1545).attr("r",4.5);
ic.append("circle").attr("cx",2547).attr("cy",1556).attr("r",4.5);
ic.append("path").attr("d","M2536 1542L2543 1537M2536 1548L2543 1553");
ic.append("path").attr("d","M2604 1549V1531H2632V1549M2618 1541V1556M2612 1553L2618 1561L2624 1553");
ic.append("path").attr("d","M2689 1538V1532H2695M2703 1532H2709V1538M2709 1552V1558H2703M2695 1558H2689V1552M2692 1536H2706V1554H2692Z");
</script></body></html>
